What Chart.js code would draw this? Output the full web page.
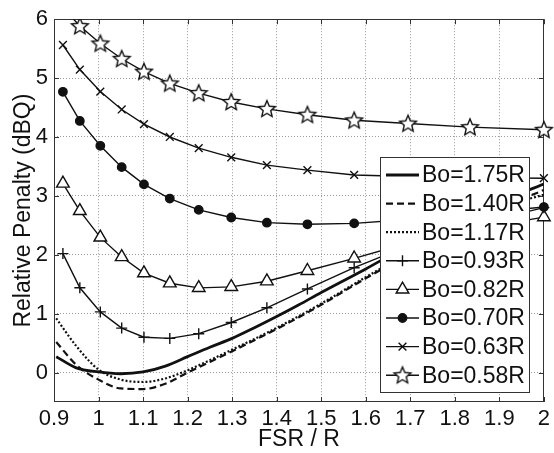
<!DOCTYPE html>
<html>
<head>
<meta charset="utf-8">
<script src="https://cdn.jsdelivr.net/npm/chart.js@4.4.0/dist/chart.umd.min.js"></script>
<style>
  html, body { margin: 0; padding: 0; background: #fff; }
  #wrap { width: 554px; height: 453px; }
</style>
</head>
<body>
<div id="wrap"><canvas id="chart"></canvas></div>
<script>
// x positions of the marker series, and of the smooth curves
const markerX = [0.92, 0.958, 1.004, 1.052, 1.102, 1.16, 1.225, 1.298, 1.378, 1.469, 1.574, 1.695, 1.834, 2.0];
const curveX = [0.905, 0.95, 1.0, 1.05, 1.1, 1.15, 1.2, 1.25, 1.3, 1.35, 1.4, 1.45, 1.5, 1.6, 1.7, 1.8, 1.9, 2.0];

// smooth curves (no markers)
const bo175 = [0.27, 0.08, 0.01, -0.02, 0.01, 0.11, 0.27, 0.43, 0.58, 0.76, 0.95, 1.15, 1.36, 1.76, 2.18, 2.56, 2.9, 3.2];
const bo140 = [0.52, 0.13, -0.12, -0.27, -0.28, -0.19, 0.0, 0.18, 0.36, 0.55, 0.74, 0.94, 1.15, 1.6, 2.02, 2.42, 2.78, 3.1];
const bo117 = [0.92, 0.45, 0.05, -0.12, -0.16, -0.1, 0.04, 0.21, 0.39, 0.57, 0.76, 0.96, 1.17, 1.62, 2.05, 2.45, 2.8, 3.02];

// marker series
const bo093 = [2.02, 1.44, 1.03, 0.755, 0.6, 0.58, 0.66, 0.85, 1.1, 1.42, 1.78, 2.15, 2.5, 2.8];
const bo082 = [3.21, 2.745, 2.295, 1.962, 1.688, 1.517, 1.438, 1.455, 1.55, 1.728, 1.94, 2.2, 2.42, 2.64];
const bo070 = [4.767, 4.272, 3.85, 3.488, 3.195, 2.955, 2.762, 2.633, 2.545, 2.517, 2.533, 2.6, 2.69, 2.81];
const bo063 = [5.562, 5.145, 4.772, 4.467, 4.217, 4.0, 3.812, 3.655, 3.522, 3.438, 3.355, 3.33, 3.31, 3.3];
const bo058 = [6.2, 5.883, 5.588, 5.328, 5.11, 4.91, 4.745, 4.595, 4.478, 4.378, 4.283, 4.228, 4.167, 4.122];

const seriesLabels = ["Bo=1.75R", "Bo=1.40R", "Bo=1.17R", "Bo=0.93R", "Bo=0.82R", "Bo=0.70R", "Bo=0.63R", "Bo=0.58R"];

const xTicks = [0.9, 1, 1.1, 1.2, 1.3, 1.4, 1.5, 1.6, 1.7, 1.8, 1.9, 2];
const xTickLabels = ["0.9", "1", "1.1", "1.2", "1.3", "1.4", "1.5", "1.6", "1.7", "1.8", "1.9", "2"];
const yTicks = [0, 1, 2, 3, 4, 5, 6];
const yTickLabels = ["0", "1", "2", "3", "4", "5", "6"];

const FONT = "'Liberation Sans', Arial, Helvetica, sans-serif";
const INK = "#111";

// open five-point star marker
function makeStar() {
    const c = document.createElement("canvas");
    c.width = 22; c.height = 22;
    const g = c.getContext("2d");
    g.beginPath();
    for (let i = 0; i < 10; i++) {
        const r = i % 2 === 0 ? 8.8 : 4;
        const a = -Math.PI / 2 + i * Math.PI / 5;
        const px = 11 + r * Math.cos(a), py = 11.5 + r * Math.sin(a);
        if (i === 0) g.moveTo(px, py); else g.lineTo(px, py);
    }
    g.closePath();
    g.fillStyle = "#fff";
    g.fill();
    g.lineWidth = 1.4;
    g.strokeStyle = INK;
    g.stroke();
    return c;
}
const starImg = makeStar();

function pts(xs, ys) {
    return xs.map((x, i) => ({ x: x, y: ys[i] }));
}

function curve(label, ys, width, dash) {
    return {
        label: label,
        data: pts(curveX, ys),
        borderColor: INK,
        borderWidth: width,
        borderDash: dash,
        pointRadius: 0,
        cubicInterpolationMode: "monotone",
        fill: false
    };
}

function marked(label, ys, style, radius, fillColor) {
    return {
        label: label,
        data: pts(markerX, ys),
        borderColor: INK,
        borderWidth: 1.4,
        pointStyle: style,
        pointRadius: radius,
        pointBorderColor: INK,
        pointBackgroundColor: fillColor,
        pointBorderWidth: 1.4,
        tension: 0,
        fill: false,
        clip: { left: 0, top: 0, right: 10, bottom: 0 }
    };
}

const datasets = [
    curve(seriesLabels[0], bo175, 2.8, []),
    curve(seriesLabels[1], bo140, 2.2, [7, 4]),
    curve(seriesLabels[2], bo117, 2.2, [2, 2]),
    marked(seriesLabels[3], bo093, "cross", 5.5, "#fff"),
    marked(seriesLabels[4], bo082, "triangle", 7.3, "#fff"),
    marked(seriesLabels[5], bo070, "circle", 4.2, INK),
    marked(seriesLabels[6], bo063, "crossRot", 5.5, "#fff"),
    marked(seriesLabels[7], bo058, starImg, markerX.map((x, i) => i === 0 ? 0 : 8), "#fff")
];

// box and inward tick marks, matlab style
const framePlugin = {
    id: "frame",
    beforeDatasetsDraw(chart) {
        const { ctx, chartArea: a, scales } = chart;
        ctx.save();
        ctx.strokeStyle = "#333";
        ctx.lineWidth = 1;
        ctx.strokeRect(Math.round(a.left) + 0.5, Math.round(a.top) + 0.5,
            Math.round(a.right - a.left) - 1, Math.round(a.bottom - a.top) - 1);
        ctx.beginPath();
        xTicks.forEach(v => {
            const px = Math.round(scales.x.getPixelForValue(v)) + 0.5;
            ctx.moveTo(px, a.bottom); ctx.lineTo(px, a.bottom - 5);
            ctx.moveTo(px, a.top); ctx.lineTo(px, a.top + 5);
        });
        yTicks.forEach(v => {
            const py = Math.round(scales.y.getPixelForValue(v)) + 0.5;
            ctx.moveTo(a.left, py); ctx.lineTo(a.left + 5, py);
            ctx.moveTo(a.right, py); ctx.lineTo(a.right - 5, py);
        });
        ctx.stroke();
        ctx.restore();
    }
};

function legendMarker(ctx, ds, x, y) {
    const style = ds.pointStyle;
    if (!style) return;
    const r = Array.isArray(ds.pointRadius) ? 8 : ds.pointRadius;
    if (typeof style === "object") {
        ctx.drawImage(style, x - style.width / 2, y - style.height / 2);
        return;
    }
    ctx.fillStyle = ds.pointBackgroundColor;
    ctx.strokeStyle = INK;
    ctx.lineWidth = 1.4;
    Chart.helpers.drawPoint(ctx, { pointStyle: style, radius: r, rotation: 0, borderWidth: 1.4 }, x, y);
}

const legendPlugin = {
    id: "boxLegend",
    afterDatasetsDraw(chart) {
        const { ctx, chartArea: a } = chart;
        const w = 149, h = 235;
        const x0 = Math.round(a.right) - 15 - w, y0 = Math.round(a.bottom) - 10 - h;
        ctx.save();
        ctx.fillStyle = "#fff";
        ctx.fillRect(x0, y0, w, h);
        ctx.strokeStyle = "#333";
        ctx.lineWidth = 1;
        ctx.strokeRect(x0 + 0.5, y0 + 0.5, w, h);
        chart.data.datasets.forEach((ds, i) => {
            const cy = y0 + 18 + i * 28.6;
            ctx.save();
            ctx.strokeStyle = INK;
            ctx.lineWidth = ds.borderWidth;
            ctx.setLineDash(ds.borderDash || []);
            ctx.beginPath();
            ctx.moveTo(x0 + 6, cy);
            ctx.lineTo(x0 + 39, cy);
            ctx.stroke();
            ctx.setLineDash([]);
            legendMarker(ctx, ds, x0 + 22.5, cy);
            ctx.restore();
            ctx.fillStyle = INK;
            ctx.font = "23px " + FONT;
            ctx.textBaseline = "middle";
            ctx.textAlign = "left";
            ctx.fillText(ds.label, x0 + 42, cy + 1);
        });
        ctx.restore();
    }
};

new Chart(document.getElementById("chart"), {
    type: "line",
    data: { datasets: datasets },
    options: {
        responsive: true,
        maintainAspectRatio: false,
        animation: false,
        layout: { padding: { top: 12, right: 5, left: 0, bottom: 0 } },
        plugins: {
            legend: { display: false },
            tooltip: { enabled: false }
        },
        scales: {
            x: {
                type: "linear",
                min: 0.9,
                max: 2,
                afterBuildTicks: s => { s.ticks = xTicks.map(v => ({ value: v })); },
                afterFit: s => { s.height = 51; },
                ticks: {
                    autoSkip: false,
                    maxRotation: 0,
                    padding: 4,
                    color: INK,
                    font: { family: FONT, size: 22 },
                    callback: (v) => xTickLabels[xTicks.indexOf(v)]
                },
                grid: { color: "#9a9a9a", lineWidth: 1, drawTicks: false },
                border: { display: false, dash: [1, 2] },
                title: {
                    display: true,
                    text: "FSR / R",
                    color: INK,
                    font: { family: FONT, size: 23 },
                    padding: { top: 0, bottom: 0 }
                }
            },
            y: {
                min: -0.5,
                max: 6,
                afterBuildTicks: s => { s.ticks = yTicks.map(v => ({ value: v })); },
                afterFit: s => { s.width = 54; },
                ticks: {
                    padding: 6,
                    color: INK,
                    font: { family: FONT, size: 22 },
                    callback: (v) => yTickLabels[yTicks.indexOf(v)]
                },
                grid: { color: "#9a9a9a", lineWidth: 1, drawTicks: false },
                border: { display: false, dash: [1, 2] },
                title: {
                    display: true,
                    text: "Relative Penalty (dBQ)",
                    color: INK,
                    font: { family: FONT, size: 23 },
                    padding: { top: 10, bottom: 0 }
                }
            }
        }
    },
    plugins: [framePlugin, legendPlugin]
});
</script>
</body>
</html>
